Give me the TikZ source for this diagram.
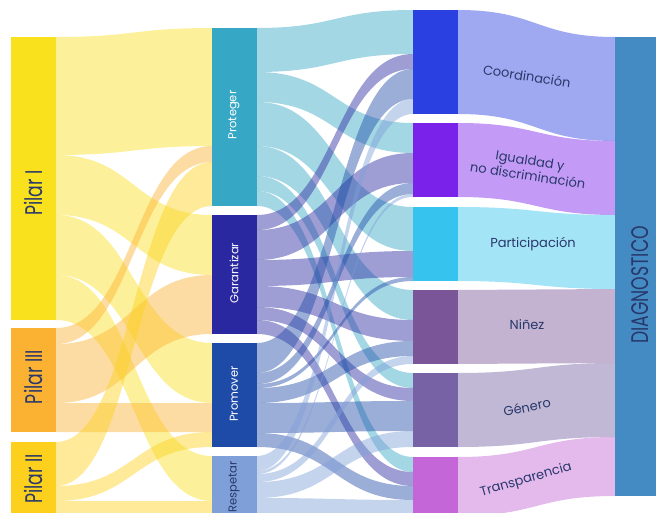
\documentclass[tikz,border=0pt]{standalone}
\usepackage{fontspec}
\setmainfont{Poppins}
\newfontfamily\condfont[FakeStretch=0.72]{Poppins}
\usetikzlibrary{calc}
\pgfdeclarelayer{bg}
\pgfsetlayers{bg,main}
\definecolor{pilarI}{HTML}{F9E11E}
\definecolor{pilarIII}{HTML}{FBB232}
\definecolor{pilarII}{HTML}{FCD01C}
\definecolor{protc}{HTML}{36A7C4}
\definecolor{garc}{HTML}{2A28A0}
\definecolor{prmc}{HTML}{1F4BA8}
\definecolor{resc}{HTML}{7F9FD8}
\definecolor{cooc}{HTML}{2B40E0}
\definecolor{iguc}{HTML}{7B22EA}
\definecolor{parc}{HTML}{36C3EE}
\definecolor{ninc}{HTML}{7A5699}
\definecolor{genc}{HTML}{7662A4}
\definecolor{trac}{HTML}{C466D8}
\definecolor{diagc}{HTML}{448BC4}
\definecolor{navy}{HTML}{28386A}
% sankey band: source node, source offset, target node, target offset, width, colour
\newcommand\sk[6]{%
  \fill[#6, fill opacity=.45]
    let \p1=(#1.north east), \p2=(#3.north west), \p3=($(\p1)!.5!(\p2)$) in
    (\x1,\y1-#2pt) .. controls (\x3,\y1-#2pt) and (\x3,\y2-#4pt) .. (\x2,\y2-#4pt)
    -- (\x2,\y2-#4pt-#5pt) .. controls (\x3,\y2-#4pt-#5pt) and (\x3,\y1-#2pt-#5pt) .. (\x1,\y1-#2pt-#5pt) -- cycle;}
\begin{document}
\begin{tikzpicture}[x=1pt,y=-1pt,
  box/.style={inner sep=0pt, outer sep=0pt, draw=none, minimum width=45pt, anchor=north west},
  pillab/.style={text=navy, font=\condfont\fontsize{24}{24}\selectfont, inner sep=0pt},
  midlab/.style={text=white, font=\fontsize{11.5}{12}\selectfont, inner sep=0pt},
  catlab/.style={text=navy, font=\fontsize{13}{15}\selectfont, inner sep=0pt, align=center}]
\useasboundingbox (0,0) rectangle (656,513);
\begin{scope}
\clip (0,0) rectangle (656,513);
% column 1
\node[box, fill=pilarI, minimum height=283pt] (p1) at (11,37) {};
\node[box, fill=pilarIII, minimum height=104pt] (p3) at (11,328) {};
\node[box, fill=pilarII, minimum height=72pt] (p2) at (11,442) {};
% column 2
\node[box, fill=protc, minimum height=178pt] (pro) at (212,28) {};
\node[box, fill=garc, minimum height=119pt] (gar) at (212,215) {};
\node[box, fill=prmc, minimum height=104pt] (prm) at (212,343) {};
\node[box, fill=resc, minimum height=58pt] (res) at (212,456) {};
% column 3
\node[box, fill=cooc, minimum height=104pt] (coo) at (413,10) {};
\node[box, fill=iguc, minimum height=74pt] (igu) at (413,123) {};
\node[box, fill=parc, minimum height=74pt] (par) at (413,207) {};
\node[box, fill=ninc, minimum height=74pt] (nin) at (413,290) {};
\node[box, fill=genc, minimum height=74pt] (gen) at (413,373) {};
\node[box, fill=trac, minimum height=59pt] (tra) at (413,457) {};
% final
\node[box, fill=diagc, minimum width=50pt, minimum height=459pt] (dia) at (615,37) {};
\end{scope}
% labels
\node[pillab, rotate=90] (lp1) at (33,193) {Pilar I};
\node[pillab, rotate=90] (lp3) at (33,377) {Pilar III};
\node[pillab, rotate=90] (lp2) at (33,479) {Pilar II};
\node[midlab, rotate=90] (lpro) at (234,115) {Proteger};
\node[midlab, rotate=90] (lgar) at (234,273) {Garantizar};
\node[midlab, rotate=90] (lprm) at (234,394) {Promover};
\node[midlab, rotate=90, text=navy] (lres) at (234,487) {Respetar};
\node[catlab, rotate=-9] (lcoo) at (527,76) {Coordinación};
\node[catlab, rotate=-9] (ligu) at (529,168) {Igualdad y\\no discriminación};
\node[catlab] (lpar) at (533,244) {Participación};
\node[catlab] (lnin) at (527,325) {Niñez};
\node[catlab, rotate=12] (lgen) at (527,407) {Género};
\node[catlab, rotate=16] (ltra) at (526,480) {Transparencia};
\node[pillab, rotate=90] (ldia) at (640,285) {DIAGNOSTICO};
% bands
\begin{pgfonlayer}{bg}
\begin{scope}
\clip (0,0) rectangle (656,513);
\sk{p1}{0}{pro}{0}{118}{pilarI}
\sk{p1}{118}{gar}{0}{60}{pilarI}
\sk{p1}{178}{prm}{0}{60}{pilarI}
\sk{p1}{238}{res}{0}{45}{pilarI}
\sk{p3}{0}{pro}{118}{16}{pilarIII}
\sk{p3}{16}{gar}{60}{59}{pilarIII}
\sk{p3}{75}{prm}{60}{29}{pilarIII}
\sk{p2}{0}{pro}{134}{44}{pilarII}
\sk{p2}{44}{prm}{89}{15}{pilarII}
\sk{p2}{59}{res}{45}{13}{pilarII}
%
\sk{pro}{0}{coo}{0}{44}{protc}
\sk{pro}{44}{igu}{0}{30}{protc}
\sk{pro}{74}{par}{0}{44}{protc}
\sk{pro}{118}{nin}{0}{30}{protc}
\sk{pro}{148}{gen}{0}{15}{protc}
\sk{pro}{163}{tra}{0}{15}{protc}
\sk{gar}{0}{coo}{44}{15}{garc}
\sk{gar}{15}{igu}{30}{30}{garc}
\sk{gar}{45}{par}{44}{26}{garc}
\sk{gar}{71}{nin}{30}{21}{garc}
\sk{gar}{92}{gen}{15}{13}{garc}
\sk{gar}{105}{tra}{15}{14}{garc}
\sk{prm}{0}{coo}{59}{30}{prmc}
\sk{prm}{30}{igu}{60}{11}{prmc}
\sk{prm}{41}{par}{70}{4}{prmc}
\sk{prm}{45}{nin}{51}{15}{prmc}
\sk{prm}{60}{gen}{28}{30}{prmc}
\sk{prm}{90}{tra}{29}{14}{prmc}
\sk{res}{0}{coo}{89}{15}{resc}
\sk{res}{15}{igu}{71}{3}{resc}
\sk{res}{18}{nin}{66}{8}{resc}
\sk{res}{26}{gen}{58}{16}{resc}
\sk{res}{42}{tra}{43}{16}{resc}
%
\sk{coo}{0}{dia}{0}{104}{cooc}
\sk{igu}{0}{dia}{104}{74}{iguc}
\sk{par}{0}{dia}{178}{74}{parc}
\sk{nin}{0}{dia}{252}{74}{ninc}
\sk{gen}{0}{dia}{326}{74}{genc}
\sk{tra}{0}{dia}{400}{59}{trac}
\end{scope}
\end{pgfonlayer}
\end{tikzpicture}
\end{document}
